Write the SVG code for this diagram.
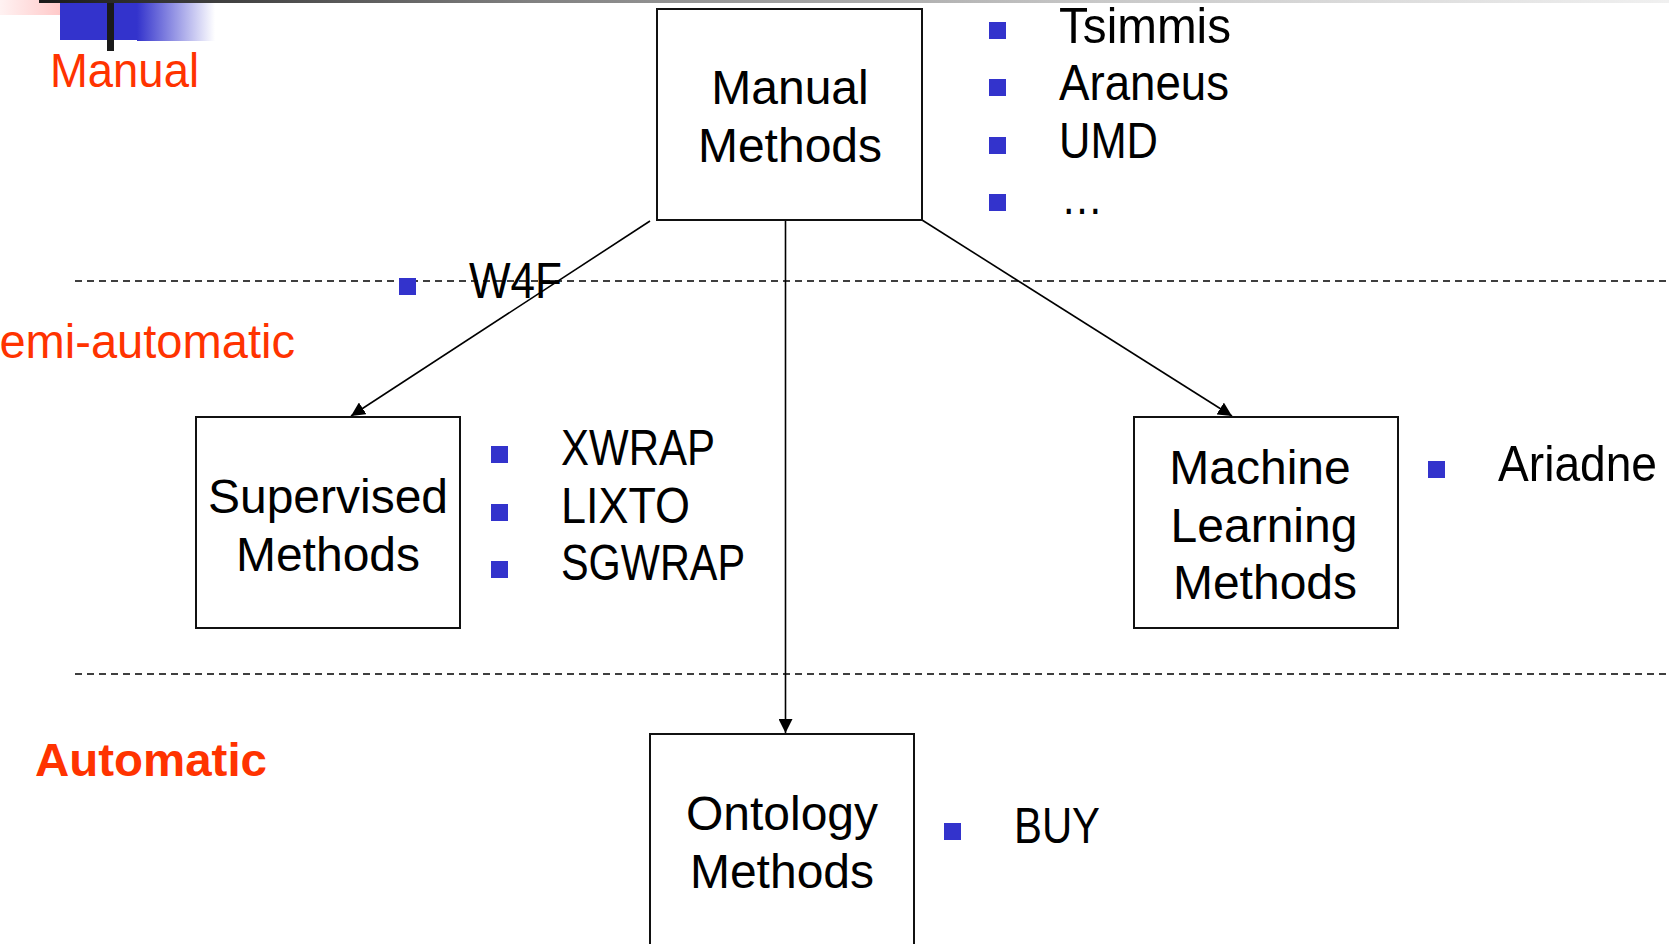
<svg xmlns="http://www.w3.org/2000/svg" width="1669" height="944" viewBox="0 0 1669 944">
  <defs>
    <linearGradient id="topBar" x1="0" y1="0" x2="1" y2="0">
      <stop offset="0" stop-color="#1a1a1a"/>
      <stop offset="0.3" stop-color="#808080"/>
      <stop offset="0.65" stop-color="#c8c8c8"/>
      <stop offset="1" stop-color="#f0f0f0"/>
    </linearGradient>
    <linearGradient id="pinkFade" x1="0" y1="0" x2="1" y2="0">
      <stop offset="0" stop-color="#fff2f2"/>
      <stop offset="1" stop-color="#ffb4b4"/>
    </linearGradient>
    <linearGradient id="blueFade" x1="0" y1="0" x2="1" y2="0">
      <stop offset="0" stop-color="#3333cc"/>
      <stop offset="1" stop-color="#ffffff"/>
    </linearGradient>
    <marker id="arrow" markerUnits="userSpaceOnUse" markerWidth="16" markerHeight="14" refX="14" refY="7" orient="auto">
      <path d="M0,0 L14,7 L0,14 Z" fill="#000"/>
    </marker>
  </defs>
  <style>
    .box { fill: #fff; stroke: #111; stroke-width: 2; }
    .boxText { font-family: "Liberation Sans", Arial, sans-serif; font-size: 48px; fill: #000; text-anchor: middle; }
    .item { font-family: "Liberation Sans", Arial, sans-serif; font-size: 50px; fill: #000; }
    .bullet { fill: #3333cc; }
    .zone { font-family: "Liberation Sans", Arial, sans-serif; font-size: 48px; fill: #ff3300; }
    .zoneBold { font-family: "Liberation Sans", Arial, sans-serif; font-size: 47px; font-weight: bold; fill: #ff3300; }
    .divider { stroke: #000; stroke-width: 1.5; stroke-dasharray: 7 5; fill: none; }
    .edge { stroke: #000; stroke-width: 1.6; fill: none; marker-end: url(#arrow); }
  </style>

  <rect width="1669" height="944" fill="#fff"/>

  <!-- slide decoration, top left -->
  <g id="decoration">
    <rect x="0" y="0" width="92" height="15" fill="url(#pinkFade)"/>
    <rect x="39" y="0" width="1630" height="3" fill="url(#topBar)"/>
    <rect x="60" y="3" width="78" height="37" fill="#3333cc"/>
    <rect x="137" y="3" width="78" height="38" fill="url(#blueFade)"/>
    <rect x="107" y="3" width="7" height="48" fill="#1a1a1a"/>
  </g>

  <!-- zone dividers -->
  <g id="dividers">
    <line class="divider" x1="75" y1="281" x2="1669" y2="281"/>
    <line class="divider" x1="75" y1="674" x2="1669" y2="674"/>
  </g>

  <!-- zone labels -->
  <g id="zones">
    <text class="zone" x="50" y="87" textLength="149" lengthAdjust="spacingAndGlyphs">Manual</text>
    <text class="zone" x="-32" y="358" textLength="327" lengthAdjust="spacingAndGlyphs">Semi-automatic</text>
    <text class="zoneBold" x="35" y="776" textLength="232" lengthAdjust="spacingAndGlyphs">Automatic</text>
  </g>

  <!-- connectors -->
  <g id="connectors">
    <line class="edge" x1="650" y1="221" x2="351" y2="416"/>
    <line class="edge" x1="785.5" y1="220" x2="785.5" y2="733"/>
    <line class="edge" x1="922" y1="220" x2="1232" y2="416"/>
  </g>

  <!-- nodes -->
  <g id="manual-methods">
    <rect class="box" x="657" y="9" width="265" height="211"/>
    <text class="boxText" x="790" y="104">Manual</text>
    <text class="boxText" x="790" y="162">Methods</text>
  </g>

  <g id="supervised-methods">
    <rect class="box" x="196" y="417" width="264" height="211"/>
    <text class="boxText" x="328" y="513">Supervised</text>
    <text class="boxText" x="328" y="571">Methods</text>
  </g>

  <g id="machine-learning-methods">
    <rect class="box" x="1134" y="417" width="264" height="211"/>
    <text class="boxText" x="1260" y="484">Machine</text>
    <text class="boxText" x="1264" y="542">Learning</text>
    <text class="boxText" x="1265" y="599">Methods</text>
  </g>

  <g id="ontology-methods">
    <rect class="box" x="650" y="734" width="264" height="230"/>
    <text class="boxText" x="782" y="830">Ontology</text>
    <text class="boxText" x="782" y="888">Methods</text>
  </g>

  <!-- example systems -->
  <g id="manual-examples">
    <rect class="bullet" x="989" y="22" width="17" height="17"/>
    <text class="item" x="1059" y="43" textLength="172" lengthAdjust="spacingAndGlyphs">Tsimmis</text>
    <rect class="bullet" x="989" y="79" width="17" height="17"/>
    <text class="item" x="1059" y="100" textLength="170" lengthAdjust="spacingAndGlyphs">Araneus</text>
    <rect class="bullet" x="989" y="137" width="17" height="17"/>
    <text class="item" x="1059" y="158" textLength="99" lengthAdjust="spacingAndGlyphs">UMD</text>
    <rect class="bullet" x="989" y="194" width="17" height="17"/>
    <text class="item" x="1061" y="214" textLength="42" lengthAdjust="spacingAndGlyphs">…</text>
  </g>

  <g id="w4f-example">
    <rect class="bullet" x="399" y="278" width="17" height="17"/>
    <text class="item" x="469" y="298" textLength="93" lengthAdjust="spacingAndGlyphs">W4F</text>
  </g>

  <g id="supervised-examples">
    <rect class="bullet" x="491" y="446" width="17" height="17"/>
    <text class="item" x="561" y="465" textLength="154" lengthAdjust="spacingAndGlyphs">XWRAP</text>
    <rect class="bullet" x="491" y="504" width="17" height="17"/>
    <text class="item" x="561" y="523" textLength="129" lengthAdjust="spacingAndGlyphs">LIXTO</text>
    <rect class="bullet" x="491" y="561" width="17" height="17"/>
    <text class="item" x="561" y="580" textLength="184" lengthAdjust="spacingAndGlyphs">SGWRAP</text>
  </g>

  <g id="ml-examples">
    <rect class="bullet" x="1428" y="461" width="17" height="17"/>
    <text class="item" x="1498" y="481" textLength="159" lengthAdjust="spacingAndGlyphs">Ariadne</text>
  </g>

  <g id="ontology-examples">
    <rect class="bullet" x="944" y="823" width="17" height="17"/>
    <text class="item" x="1014" y="843" textLength="86" lengthAdjust="spacingAndGlyphs">BUY</text>
  </g>
</svg>
